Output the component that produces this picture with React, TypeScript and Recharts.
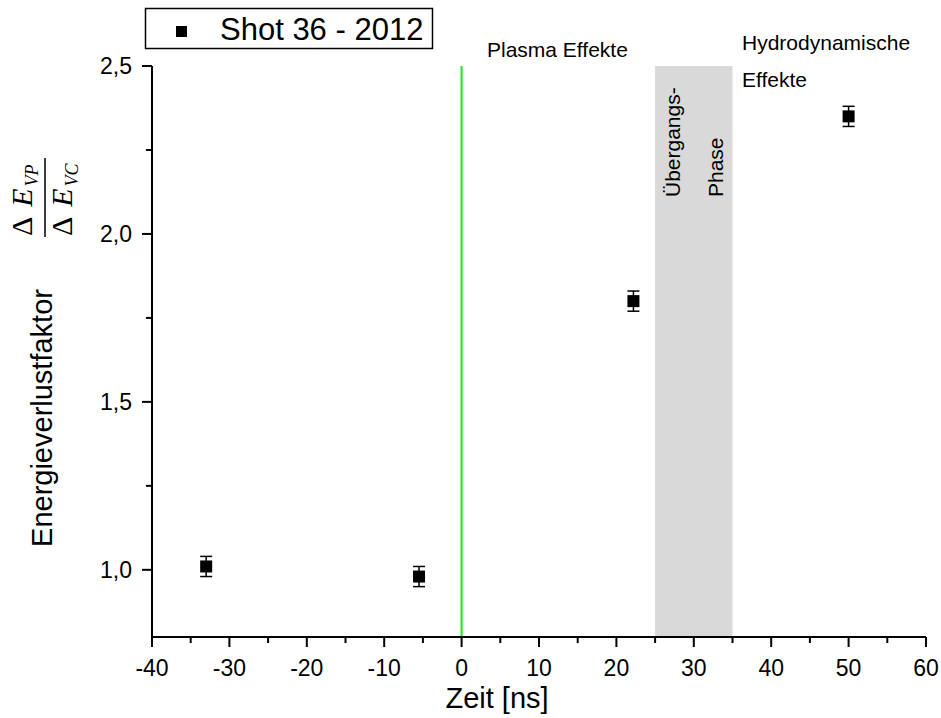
import React from 'react'
import {
  ComposedChart,
  Scatter,
  ErrorBar,
  XAxis,
  YAxis,
  ReferenceArea,
  ReferenceLine,
} from 'recharts'

// shot 36 (2012): energy loss factor vs. delay time
const times = [-33, -5.5, 22.2, 50]
const factors = [1.01, 0.98, 1.8, 2.35]
const errors = [0.03, 0.03, 0.03, 0.03]

const xTicks = [-40, -35, -30, -25, -20, -15, -10, -5, 0, 5, 10, 15, 20, 25, 30, 35, 40, 45, 50, 55, 60]
const yTicks = [1, 1.25, 1.5, 1.75, 2, 2.25, 2.5]

// transition phase between plasma and hydrodynamic regime
const phaseStart = 25
const phaseEnd = 35
const phaseLines = ['Übergangs-', 'Phase']

const seriesName = 'Shot 36 - 2012'

const W = 941
const H = 718
const FONT = '"Liberation Sans", Arial, sans-serif'
const SERIF = '"Liberation Serif", "Times New Roman", serif'

const data = times.map((t, i) => ({ t, f: factors[i], err: errors[i] }))

const XTick = (props: any) => {
  const { x, y, payload } = props
  const major = payload.value % 10 === 0
  return (
    <g>
      <line x1={x} x2={x} y1={y} y2={y + (major ? 10 : 6)} stroke="#000" strokeWidth={2} />
      {major && (
        <text x={x} y={y + 39} textAnchor="middle" fontSize={23} fontFamily={FONT} fill="#000">
          {payload.value}
        </text>
      )}
    </g>
  )
}

const YTick = (props: any) => {
  const { x, y, payload } = props
  const major = Number.isInteger(payload.value * 2)
  return (
    <g>
      <line x1={x} x2={x - (major ? 10 : 6)} y1={y} y2={y} stroke="#000" strokeWidth={2} />
      {major && (
        <text x={x - 20} y={y + 8} textAnchor="end" fontSize={23} fontFamily={FONT} fill="#000">
          {payload.value.toFixed(1).replace('.', ',')}
        </text>
      )}
    </g>
  )
}

const Square = (props: any) => (
  <rect x={props.cx - 6} y={props.cy - 6} width={12} height={12} fill="#000" />
)

const PhaseLabel = (props: any) => {
  const vb = props.viewBox
  if (!vb) return null
  const by = vb.y + 131
  return (
    <g fontFamily={FONT} fontSize={21} fill="#000">
      {phaseLines.map((s, i) => {
        const bx = vb.x + 25 + i * 43
        return (
          <text key={s} x={bx} y={by} transform={`rotate(-90 ${bx} ${by})`} textAnchor="start">
            {s}
          </text>
        )
      })}
    </g>
  )
}

export default function App() {
  return (
    <div style={{ position: 'absolute', left: 0, top: 0, width: W, height: H, background: '#fff' }}>
      <ComposedChart
        width={W}
        height={H}
        data={data}
        margin={{ top: 66, right: 15, bottom: 0, left: 0 }}
      >
        <ReferenceArea
          x1={phaseStart}
          x2={phaseEnd}
          fill="#d9d9d9"
          fillOpacity={1}
          stroke="none"
          ifOverflow="visible"
          label={<PhaseLabel />}
        />
        <ReferenceLine x={0} stroke="#19e619" strokeWidth={2} />
        <XAxis
          type="number"
          dataKey="t"
          domain={[-40, 60]}
          ticks={xTicks}
          interval={0}
          height={81}
          tickSize={0}
          tickMargin={0}
          tick={<XTick />}
          axisLine={{ stroke: '#000', strokeWidth: 2 }}
          allowDataOverflow
        />
        <YAxis
          type="number"
          domain={[0.8, 2.5]}
          ticks={yTicks}
          interval={0}
          width={152}
          tickSize={0}
          tickMargin={0}
          tick={<YTick />}
          axisLine={{ stroke: '#000', strokeWidth: 2 }}
          allowDataOverflow
        />
        <Scatter dataKey="f" name={seriesName} shape={<Square />} isAnimationActive={false}>
          <ErrorBar dataKey="err" direction="y" width={6} stroke="#000" strokeWidth={1.5} />
        </Scatter>
      </ComposedChart>

      <svg
        width={W}
        height={H}
        style={{ position: 'absolute', left: 0, top: 0, pointerEvents: 'none' }}
        fontFamily={FONT}
      >
        {/* legend */}
        <rect x={145.5} y={8.5} width={287} height={40} fill="#fff" stroke="#000" strokeWidth={1.5} />
        <rect x={176} y={26} width={11} height={11} fill="#000" />
        <text x={220} y={40} fontSize={31} fill="#000">
          {seriesName}
        </text>

        {/* region annotations */}
        <text x={487} y={57} fontSize={21} fill="#000">Plasma Effekte</text>
        <text x={742} y={50} fontSize={21} fill="#000">Hydrodynamische</text>
        <text x={742} y={87} fontSize={21} fill="#000">Effekte</text>

        {/* axis titles */}
        <text x={497} y={708} textAnchor="middle" fontSize={29} fill="#000">Zeit [ns]</text>
        <text
          x={52}
          y={418}
          textAnchor="middle"
          fontSize={29}
          fill="#000"
          transform="rotate(-90 52 418)"
        >
          Energieverlustfaktor
        </text>

        {/* ΔE_VP / ΔE_VC */}
        <g fontFamily={SERIF} fill="#000">
          <text x={32} y={236} fontSize={30} transform="rotate(-90 32 236)">
            <tspan>Δ</tspan>
            <tspan fontStyle="italic" dx={10}>E</tspan>
            <tspan fontStyle="italic" fontSize={18} dy={6} dx={2}>VP</tspan>
          </text>
          <line x1={45} x2={45} y1={158} y2={237} stroke="#000" strokeWidth={1.5} />
          <text x={72} y={236} fontSize={30} transform="rotate(-90 72 236)">
            <tspan>Δ</tspan>
            <tspan fontStyle="italic" dx={10}>E</tspan>
            <tspan fontStyle="italic" fontSize={18} dy={6} dx={2}>VC</tspan>
          </text>
        </g>
      </svg>
    </div>
  )
}
